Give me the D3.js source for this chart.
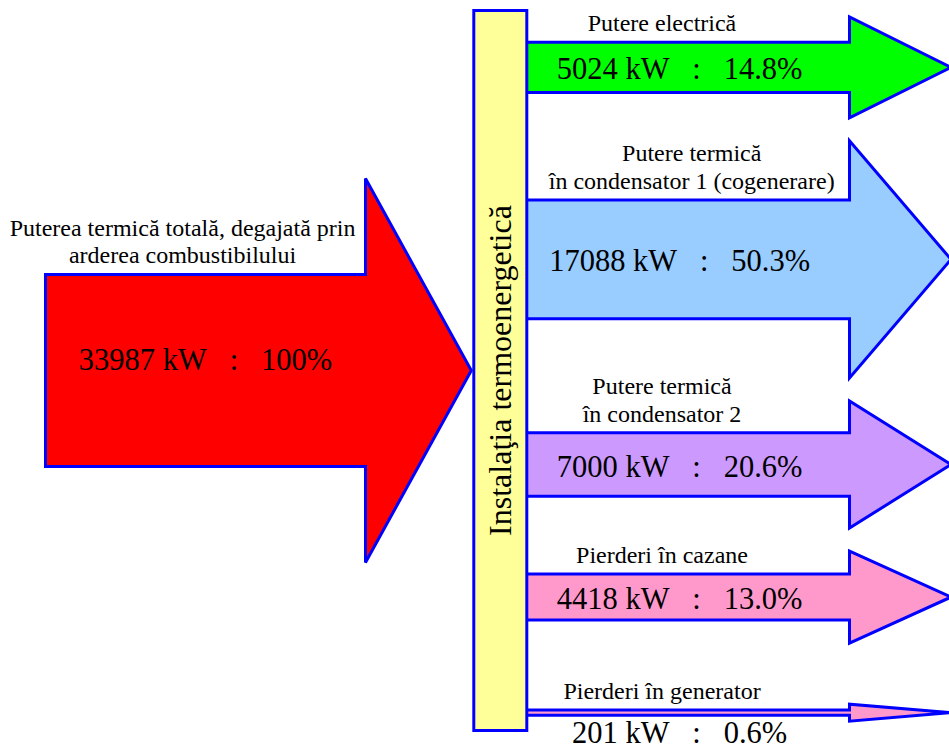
<!DOCTYPE html>
<html>
<head>
<meta charset="utf-8">
<script src="https://cdn.jsdelivr.net/npm/d3@7"></script>
<style>
  html, body { margin: 0; padding: 0; background: #ffffff; }
  svg { display: block; }
</style>
</head>
<body>
<script>
// Energy balance of the thermal plant (kW)
const sourceName = ["Puterea termică totală, degajată prin", "arderea combustibilului"];
const sourceValue = 33987;
const sourcePercent = "100%";
const sourceColor = "#ff0000";

const plantName = "Instalaţia termoenergetică";
const plantColor = "#ffff99";

const outputNames = [
  ["Putere electrică"],
  ["Putere termică", "în condensator 1 (cogenerare)"],
  ["Putere termică", "în condensator 2"],
  ["Pierderi în cazane"],
  ["Pierderi în generator"]
];
const outputValues = [5024, 17088, 7000, 4418, 201];
const outputColors = ["#00ff00", "#99ccff", "#cc99ff", "#ff99cc", "#ff99cc"];

const W = 949, H = 749;
const edge = "#0000ff";
const serif = "'Liberation Serif', 'Times New Roman', Tinos, serif";
const svg = d3.select("body").append("svg")
  .attr("width", W).attr("height", H)
  .style("font-family", serif);

// band thickness grows sub-linearly with power so the small flows stay visible
const thickness = d3.scalePow().exponent(0.7).domain([0, sourceValue]).range([0, 192]);
const pct = v => d3.format(".1f")(v / sourceValue * 100) + "%";
const valueText = (v, p) => `${v} kW\u00a0\u00a0\u00a0:\u00a0\u00a0\u00a0${p}`;

// block arrow: body of height h, head twice as tall
function arrowPath(x0, xBase, xTip, cy, h, headHalf) {
  const p = d3.path();
  p.moveTo(x0, cy - h / 2);
  p.lineTo(xBase, cy - h / 2);
  p.lineTo(xBase, cy - headHalf);
  p.lineTo(xTip, cy);
  p.lineTo(xBase, cy + headHalf);
  p.lineTo(xBase, cy + h / 2);
  p.lineTo(x0, cy + h / 2);
  p.closePath();
  return p.toString();
}

// plant block
const bar = { x: 473.8, y: 10.5, w: 53, h: 720 };
const barMid = bar.y + bar.h / 2;

// outgoing flows, stacked from the top
const outX0 = bar.x + bar.w - 1, outBase = 849.5, outTip = 951;
const gap = 23;
let yCursor = 17;
const rows = outputValues.map((v, i) => {
  const h = thickness(v);
  const headHalf = Math.max(h, 8.5);
  const below = h < 24;           // value text goes under a thin band
  if (below) yCursor += 38;
  const cy = yCursor + headHalf;
  yCursor = cy + headHalf + gap;
  return { v, h, headHalf, cy, below, names: outputNames[i], color: outputColors[i] };
});

svg.selectAll("path.out").data(rows).join("path")
  .attr("class", "out")
  .attr("d", d => arrowPath(outX0, outBase, outTip, d.cy, d.h, d.headHalf))
  .attr("fill", d => d.color)
  .attr("stroke", edge).attr("stroke-width", 3).attr("stroke-linejoin", "miter");

// incoming flow
const srcH = thickness(sourceValue);
const src = { x0: 45.5, base: 365.5, tip: bar.x - 2.5, cy: barMid };
svg.append("path")
  .attr("d", arrowPath(src.x0, src.base, src.tip, src.cy, srcH, srcH))
  .attr("fill", sourceColor)
  .attr("stroke", edge).attr("stroke-width", 3).attr("stroke-linejoin", "miter");

svg.append("rect")
  .attr("x", bar.x).attr("y", bar.y).attr("width", bar.w).attr("height", bar.h)
  .attr("fill", plantColor).attr("stroke", edge).attr("stroke-width", 3);

svg.append("text")
  .attr("transform", `translate(${bar.x + bar.w / 2 + 11},${barMid}) rotate(-90)`)
  .attr("text-anchor", "middle")
  .attr("font-size", 32)
  .text(plantName);

// source labels
const srcName = svg.append("g").attr("font-size", 24).attr("text-anchor", "middle");
const srcLines = srcName.selectAll("text").data(sourceName).join("text").text(d => d);
const srcWidest = d3.max(srcLines.nodes(), n => n.getComputedTextLength());
const srcCx = Math.min((src.x0 + src.base) / 2, src.base - 10 - srcWidest / 2);
const srcLastBase = src.cy - srcH / 2 - 12;
srcLines.attr("x", srcCx)
  .attr("y", (d, i) => srcLastBase - (sourceName.length - 1 - i) * 27);

svg.append("text")
  .attr("x", (src.x0 + src.base) / 2).attr("y", src.cy - 1)
  .attr("text-anchor", "middle").attr("font-size", 30.5)
  .text(valueText(sourceValue, sourcePercent));

// output labels
const valueCx = (outX0 + outBase) / 2 - 8;
rows.forEach(r => {
  const g = svg.append("g").attr("font-size", 24).attr("text-anchor", "middle");
  const lines = g.selectAll("text").data(r.names).join("text").text(d => d);
  const widest = d3.max(lines.nodes(), n => n.getComputedTextLength());
  const cx = Math.max(662, outX0 + 23 + widest / 2);
  const lastBase = r.cy - r.h / 2 - 11;
  lines.attr("x", cx).attr("y", (d, i) => lastBase - (r.names.length - 1 - i) * 28);

  svg.append("text")
    .attr("x", valueCx)
    .attr("y", r.below ? r.cy + 30 : r.cy + 12)
    .attr("text-anchor", "middle").attr("font-size", 30.5)
    .text(valueText(r.v, pct(r.v)));
});
</script>
</body>
</html>
